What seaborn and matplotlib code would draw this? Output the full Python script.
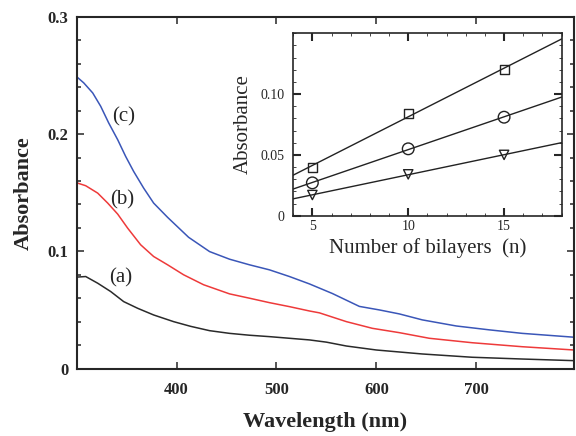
import matplotlib
matplotlib.use('Agg')
import matplotlib.pyplot as plt
import seaborn as sns
from matplotlib.ticker import MultipleLocator, FixedLocator, FixedFormatter

# ---- main spectra ----
wl_c = [300, 307, 316, 324, 332, 341, 349, 357, 367, 377, 391, 412, 433, 453,
        473, 493, 513, 533, 556, 583, 603, 623, 646, 680, 713, 746, 798]
abs_c = [0.249, 0.2438, 0.2352, 0.2238, 0.2096, 0.1953, 0.181, 0.1682, 0.154,
         0.1412, 0.129, 0.112, 0.0998, 0.0933, 0.0885, 0.0842, 0.0785, 0.0722,
         0.064, 0.053, 0.050, 0.0466, 0.0415, 0.0363, 0.033, 0.030, 0.0267]

wl_b = [300, 309, 321, 331, 341, 351, 364, 377, 391, 407, 427, 453, 473, 493,
        513, 533, 543, 570, 596, 623, 653, 696, 746, 798]
abs_b = [0.1585, 0.156, 0.1497, 0.1412, 0.1318, 0.1198, 0.1056, 0.0956, 0.0885,
         0.080, 0.0715, 0.0637, 0.060, 0.0562, 0.0528, 0.0491, 0.0475, 0.040,
         0.0343, 0.0306, 0.0258, 0.022, 0.0186, 0.0158]

wl_a = [300, 309, 321, 334, 347, 361, 377, 397, 414, 433, 453, 473, 493, 513,
        533, 550, 570, 600, 646, 696, 746, 798]
abs_a = [0.078, 0.0785, 0.0728, 0.0657, 0.0571, 0.0514, 0.0457, 0.040, 0.036,
         0.0323, 0.030, 0.0284, 0.0272, 0.0258, 0.0244, 0.0225, 0.0192, 0.0158,
         0.0124, 0.0096, 0.0081, 0.0067]

curve_labels = ['(a)', '(b)', '(c)']

# ---- inset data ----
n_layers = [5, 10, 15]
abs_square = [0.040, 0.084, 0.120]
abs_circle = [0.027, 0.055, 0.081]
abs_triangle = [0.017, 0.034, 0.050]

x_ticks = [400, 500, 600, 700]
y_ticks = [0, 0.1, 0.2, 0.3]
y_ticklabels = ['0', '0.1', '0.2', '0.3']
inset_xticks = [5, 10, 15]
inset_yticks = [0, 0.05, 0.10]
inset_yticklabels = ['0', '0.05', '0.10']

sns.set_style('ticks')
plt.rcParams['font.family'] = ['Liberation Serif', 'DejaVu Serif']

fig = plt.figure(figsize=(5.76, 4.36), dpi=100)
ax = fig.add_axes([0.1332, 0.1548, 0.8635, 0.8062])

sns.lineplot(x=wl_a, y=abs_a, ax=ax, color='#2a2a2a', lw=1.1, sort=False, estimator=None)
sns.lineplot(x=wl_b, y=abs_b, ax=ax, color='#ee3a3a', lw=1.1, sort=False, estimator=None)
sns.lineplot(x=wl_c, y=abs_c, ax=ax, color='#3a56b8', lw=1.1, sort=False, estimator=None)

ax.set_xlim(300, 798)
ax.set_ylim(0, 0.3)
ax.xaxis.set_major_locator(FixedLocator(x_ticks))
ax.yaxis.set_major_locator(FixedLocator(y_ticks))
ax.yaxis.set_major_formatter(FixedFormatter(y_ticklabels))
ax.yaxis.set_minor_locator(MultipleLocator(0.02))
ax.tick_params(which='both', direction='in', top=True, right=True, width=1.1)
ax.tick_params(which='major', length=5)
ax.tick_params(which='minor', length=3)
ax.tick_params(axis='x', pad=10)
ax.tick_params(axis='y', pad=6)
for lab in ax.get_xticklabels() + ax.get_yticklabels():
    lab.set_fontsize(12)
    lab.set_fontweight('bold')
for s in ax.spines.values():
    s.set_linewidth(1.5)
ax.set_xlabel('Wavelength (nm)', fontsize=16, fontweight='bold', labelpad=10)
ax.set_ylabel('Absorbance', fontsize=16, fontweight='bold', labelpad=10)

label_pos = [(344, 0.0771), (346, 0.144), (346.6, 0.2147)]
for (lx, ly), t in zip(label_pos, curve_labels):
    ax.text(lx, ly, t, ha='center', va='center', fontsize=15)

# ---- inset ----
ax2 = fig.add_axes([0.509, 0.5053, 0.466, 0.4183])
ax2.set_xlim(4, 18)
ax2.set_ylim(0, 0.15)
for yv, mk, ms in [(abs_square, 's', 42), (abs_circle, 'o', 70), (abs_triangle, 'v', 45)]:
    sns.regplot(x=n_layers, y=yv, ax=ax2, ci=None, truncate=False, marker=mk,
                color='#222222',
                scatter_kws=dict(facecolors='none', edgecolors='#222222', s=ms,
                                 linewidths=1.0, alpha=1, zorder=3),
                line_kws=dict(lw=1.0))
ax2.set_xlim(4, 18)
ax2.set_ylim(0, 0.15)
ax2.xaxis.set_major_locator(FixedLocator(inset_xticks))
ax2.xaxis.set_minor_locator(MultipleLocator(1))
ax2.yaxis.set_major_locator(FixedLocator(inset_yticks))
ax2.yaxis.set_major_formatter(FixedFormatter(inset_yticklabels))
ax2.yaxis.set_minor_locator(MultipleLocator(0.01))
ax2.tick_params(which='both', direction='in', top=True, right=True)
ax2.tick_params(which='major', length=6, width=1.5, labelsize=10)
ax2.tick_params(which='minor', length=2.5, width=0.6)
ax2.tick_params(axis='x', pad=3)
ax2.tick_params(axis='y', pad=6)
for s in ax2.spines.values():
    s.set_linewidth(1.2)
ax2.set_xlabel('Number of bilayers  (n)', fontsize=15, labelpad=4)
ax2.set_ylabel('Absorbance', fontsize=15, labelpad=6)

fig.savefig('out.png', dpi=100)
